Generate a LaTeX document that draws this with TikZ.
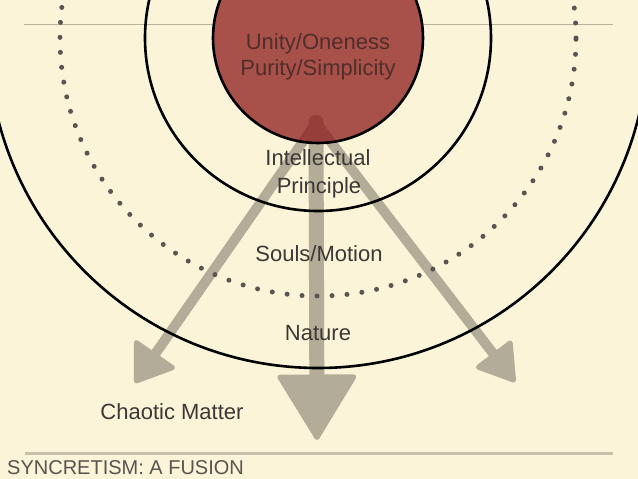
\documentclass[tikz,border=0pt]{standalone}
\usepackage{fontspec}
\setmainfont{Liberation Sans}
\usetikzlibrary{calc}
\definecolor{cream}{RGB}{251,244,216}
\definecolor{discred}{RGB}{141,26,27}
\definecolor{arrowgray}{RGB}{178,172,152}
\definecolor{dotgray}{RGB}{90,85,80}
\definecolor{ink}{RGB}{60,56,52}
\definecolor{inkred}{RGB}{80,46,42}
\definecolor{titlegray}{RGB}{88,84,78}
\definecolor{rulegray}{RGB}{200,192,170}
\definecolor{thingray}{RGB}{185,176,156}
\begin{document}
\begin{tikzpicture}[x=1pt,y=-1pt,
  txt/.style={font=\fontsize{22}{26}\selectfont, text=ink, inner sep=0pt, anchor=base},
  ring/.style={draw=black, line width=2.6pt},
  dotring/.style={draw=dotgray, line width=5pt, line cap=round, dash pattern=on 0pt off 15pt},
  shaft/.style={draw=arrowgray, line width=10pt, line cap=round},
  head/.style={fill=arrowgray, draw=arrowgray, line width=5pt, line join=round},
]
\useasboundingbox (0,0) rectangle (638,479);
\fill[cream] (0,0) rectangle (638,479);
\clip (0,0) rectangle (638,479);
\coordinate (O) at (318,38);
% rules
\draw[thingray, line width=1pt] (24,24) -- (214,24);
\draw[thingray, line width=1pt] (422,24) -- (613,24);
\draw[rulegray, line width=3pt] (25,453) -- (613,453);
% arrows
\coordinate (sL) at (318,120);
\coordinate (tL) at (135,383);
\coordinate (sM) at (316,123);
\coordinate (tM) at (317,440);
\coordinate (sR) at (314,120);
\coordinate (tR) at (515,382);
% left
\coordinate (hL) at ($(tL)!2.5pt!(sL)$);
\coordinate (bL) at ($(tL)!34pt!(sL)$);
\draw[shaft] (sL) -- (bL);
\filldraw[head] (hL) -- ($(bL)!22pt!90:(tL)$) -- ($(bL)!22pt!-90:(tL)$) -- cycle;
% middle
\coordinate (hM) at ($(tM)!2.5pt!(sM)$);
\coordinate (bM) at ($(tM)!63pt!(sM)$);
\draw[shaft, line width=15pt] (sM) -- (bM);
\filldraw[head] (hM) -- ($(bM)!37pt!90:(tM)$) -- ($(bM)!37pt!-90:(tM)$) -- cycle;
% right
\coordinate (hR) at ($(tR)!2.5pt!(sR)$);
\coordinate (bR) at ($(tR)!34pt!(sR)$);
\draw[shaft] (sR) -- (bR);
\filldraw[head] (hR) -- ($(bR)!20pt!90:(tR)$) -- ($(bR)!20pt!-90:(tR)$) -- cycle;
% disc and rings
\fill[discred, fill opacity=0.75] (O) circle[radius=105pt];
\draw[ring] (O) circle[radius=105pt];
\draw[ring] (O) circle[radius=173pt];
\draw[dotring] (O) circle[radius=258pt];
\draw[ring] (O) circle[radius=330pt];
% labels
\node[txt, text=inkred] (unity) at (318,49) {Unity/Oneness};
\node[txt, text=inkred] (purity) at (318,75) {Purity/Simplicity};
\node[txt] (intel) at (318,165) {Intellectual};
\node[txt] (princ) at (319,193) {Principle};
\node[txt] (souls) at (319,261) {Souls/Motion};
\node[txt] (nature) at (318,340) {Nature};
\node[txt] (chaos) at (172,419) {Chaotic Matter};
\node[font=\fontsize{20}{24}\selectfont, text=titlegray, inner sep=0pt, anchor=base west] (title) at (7,474) {SYNCRETISM: A FUSION};
\end{tikzpicture}
\end{document}
